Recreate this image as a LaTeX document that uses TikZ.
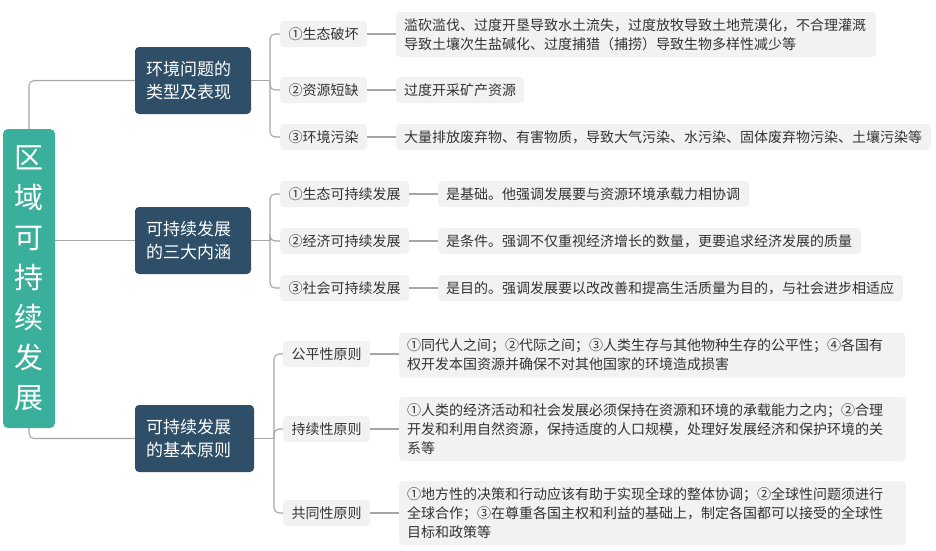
\documentclass[tikz,border=0pt]{standalone}
\usepackage{fontspec}
\setmainfont{Noto Sans CJK SC}
\definecolor{teal1}{HTML}{3AAF9C}
\definecolor{branchc}{HTML}{2E4F67}
\definecolor{boxc}{HTML}{F2F2F2}
\definecolor{txtc}{HTML}{333333}
\definecolor{linec}{HTML}{A6A6A6}
\tikzset{
  rootbox/.style={fill=teal1, rounded corners=5pt, text=white, minimum width=52pt, minimum height=299pt, inner sep=0pt, align=center, font=\fontsize{29}{40}\selectfont},
  branchbox/.style={fill=branchc, rounded corners=4pt, text=white, minimum height=67pt, inner xsep=11pt, inner ysep=0pt, align=left, font=\fontsize{17}{23}\selectfont},
  childbox/.style={fill=boxc, rounded corners=4pt, text=txtc, minimum height=26pt, inner sep=0pt, anchor=west, align=center, font=\fontsize{14}{18}\selectfont},
  detailbox/.style={fill=boxc, rounded corners=4pt, text=txtc, inner xsep=8pt, inner ysep=0pt, anchor=west, align=left, font=\fontsize{14}{19}\selectfont},
  conn/.style={draw=linec, line width=1.1pt, rounded corners=5pt},
}
\begin{document}
\begin{tikzpicture}[x=1pt, y=-1pt]
\useasboundingbox (0,0) rectangle (936,550);
% root
\node[rootbox] (root) at (29,278.5) {区\\域\\可\\持\\续\\发\\展};
% branches
\node[branchbox, text width=94pt] (b1) at (193,80.5) {环境问题的\\类型及表现};
\node[branchbox, text width=94pt] (b2) at (193,240.5) {可持续发展\\的三大内涵};
\node[branchbox, text width=97pt] (b3) at (194.5,438.5) {可持续发展\\的基本原则};
% children
\node[childbox, minimum width=87pt] (c11) at (280,34) {①生态破坏};
\node[childbox, minimum width=87pt] (c12) at (280,90) {②资源短缺};
\node[childbox, minimum width=87pt] (c13) at (280,137) {③环境污染};
\node[childbox, minimum width=129pt] (c21) at (280,194) {①生态可持续发展};
\node[childbox, minimum width=129pt] (c22) at (280,241) {②经济可持续发展};
\node[childbox, minimum width=129pt] (c23) at (280,288) {③社会可持续发展};
\node[childbox, minimum width=87pt] (c31) at (283,354) {公平性原则};
\node[childbox, minimum width=87pt] (c32) at (283,429) {持续性原则};
\node[childbox, minimum width=87pt] (c33) at (283,513) {共同性原则};
% details
\node[detailbox, text width=464pt, minimum height=45pt] (d11) at (396,34.5) {滥砍滥伐、过度开垦导致水土流失，过度放牧导致土地荒漠化，不合理灌溉\\导致土壤次生盐碱化、过度捕猎（捕捞）导致生物多样性减少等};
\node[detailbox, text width=112pt, minimum height=26pt] (d12) at (396,90) {过度开采矿产资源};
\node[detailbox, text width=519pt, minimum height=26pt] (d13) at (396,137) {大量排放废弃物、有害物质，导致大气污染、水污染、固体废弃物污染、土壤污染等};
\node[detailbox, text width=295pt, minimum height=26pt] (d21) at (438,194) {是基础。他强调发展要与资源环境承载力相协调};
\node[detailbox, text width=407pt, minimum height=26pt] (d22) at (438,241) {是条件。强调不仅重视经济增长的数量，更要追求经济发展的质量};
\node[detailbox, text width=449pt, minimum height=26pt] (d23) at (438,288) {是目的。强调发展要以改改善和提高生活质量为目的，与社会进步相适应};
\node[detailbox, text width=490pt, minimum height=45pt] (d31) at (399,355) {①同代人之间；②代际之间；③人类生存与其他物种生存的公平性；④各国有\\权开发本国资源并确保不对其他国家的环境造成损害};
\node[detailbox, text width=491pt, minimum height=64pt] (d32) at (399,429) {①人类的经济活动和社会发展必须保持在资源和环境的承载能力之内；②合理\\开发和利用自然资源，保持适度的人口规模，处理好发展经济和保护环境的关\\系等};
\node[detailbox, text width=491pt, minimum height=64pt] (d33) at (399,513) {①地方性的决策和行动应该有助于实现全球的整体协调；②全球性问题须进行\\全球合作；③在尊重各国主权和利益的基础上，制定各国都可以接受的全球性\\目标和政策等};
% root connectors
\draw[conn] (root.north) |- (b1.west);
\draw[conn] (b2.west -| root.east) -- (b2.west);
\draw[conn] (root.south) |- (b3.west);
% junctions
\coordinate (j1) at (270,80.5);
\coordinate (j2) at (270,240.5);
\coordinate (j3) at (274,438.5);
\draw[conn] (b1.east) -- (j1);
\draw[conn] (b2.east) -- (j2);
\draw[conn] (b3.east) -- (j3);
\foreach \c in {c11,c12,c13} {\draw[conn] (j1) |- (\c.west);}
\foreach \c in {c21,c22,c23} {\draw[conn] (j2) |- (\c.west);}
\foreach \c in {c31,c32,c33} {\draw[conn] (j3) |- (\c.west);}
% child to detail
\draw[conn] (c11.east) -- (c11.east -| d11.west);
\draw[conn] (c12.east) -- (c12.east -| d12.west);
\draw[conn] (c13.east) -- (c13.east -| d13.west);
\draw[conn] (c21.east) -- (c21.east -| d21.west);
\draw[conn] (c22.east) -- (c22.east -| d22.west);
\draw[conn] (c23.east) -- (c23.east -| d23.west);
\draw[conn] (c31.east) -- (c31.east -| d31.west);
\draw[conn] (c32.east) -- (c32.east -| d32.west);
\draw[conn] (c33.east) -- (c33.east -| d33.west);
\end{tikzpicture}
\end{document}
